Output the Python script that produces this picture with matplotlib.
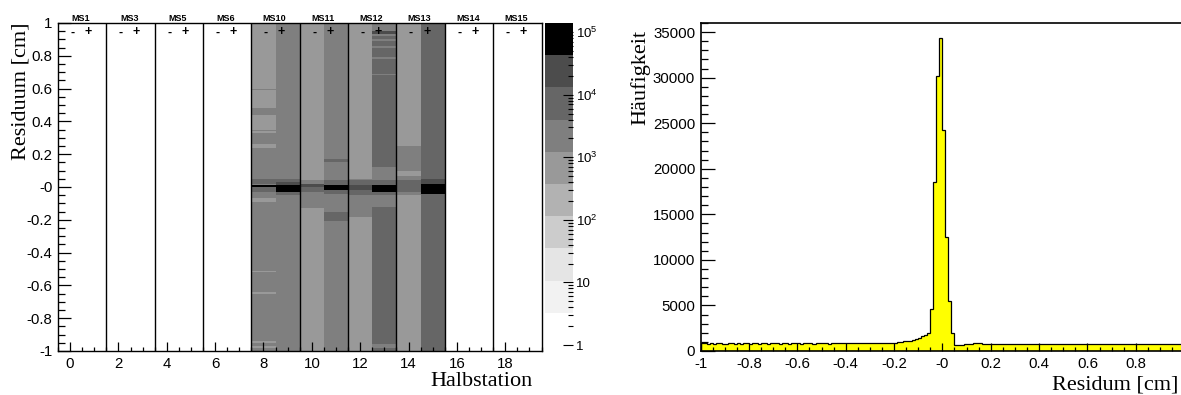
import numpy as np
import matplotlib
matplotlib.use('Agg')
import matplotlib.pyplot as plt
from matplotlib.colors import ListedColormap, LogNorm
from matplotlib.ticker import MultipleLocator, FixedLocator, LogLocator, NullFormatter

plt.rcParams['font.family'] = ['Liberation Sans', 'DejaVu Sans']
plt.rcParams['mathtext.fontset'] = 'custom'
plt.rcParams['mathtext.rm'] = 'Liberation Sans'

# ---- Daten: linkes Bild (Residuum je Halbstation, Abschnitte (y_oben, y_unten, Eintraege)) ----
stations = ['MS1', 'MS3', 'MS5', 'MS6', 'MS10', 'MS11', 'MS12', 'MS13', 'MS14', 'MS15']
n_half = 20
columns = {
    8: [(1.00, 0.60, 700), (0.60, 0.59, 2200), (0.59, 0.48, 700), (0.48, 0.44, 2200),
        (0.44, 0.35, 700), (0.35, 0.34, 2200), (0.34, 0.33, 700), (0.33, 0.26, 2200),
        (0.26, 0.24, 700), (0.24, 0.05, 2200), (0.05, 0.02, 7000), (0.02, 0.01, 2200),
        (0.01, 0.00, 70000), (0.00, -0.03, 7000), (-0.03, -0.07, 2200), (-0.07, -0.09, 700),
        (-0.09, -0.51, 2200), (-0.51, -0.52, 700), (-0.52, -0.64, 2200), (-0.64, -0.65, 700),
        (-0.65, -0.94, 2200), (-0.94, -0.95, 700), (-0.95, -0.97, 2200), (-0.97, -0.98, 700),
        (-0.98, -1.00, 2200)],
    9: [(1.00, 0.05, 2200), (0.05, 0.03, 7000), (0.03, 0.01, 24000), (0.01, -0.03, 70000),
        (-0.03, -0.05, 7000), (-0.05, -1.00, 2200)],
    10: [(1.00, 0.04, 700), (0.04, 0.02, 2200), (0.02, 0.00, 24000), (0.00, -0.03, 7000),
         (-0.03, -0.13, 2200), (-0.13, -1.00, 700)],
    11: [(1.00, 0.17, 2200), (0.17, 0.15, 7000), (0.15, 0.04, 2200), (0.04, 0.01, 7000),
         (0.01, -0.02, 70000), (-0.02, -0.04, 7000), (-0.04, -0.15, 2200), (-0.15, -0.21, 7000),
         (-0.21, -1.00, 2200)],
    12: [(1.00, 0.05, 700), (0.05, 0.04, 2200), (0.04, 0.01, 7000), (0.01, -0.02, 24000),
         (-0.02, -0.05, 7000), (-0.05, -0.18, 2200), (-0.18, -1.00, 700)],
    13: [(1.00, 0.95, 2200), (0.95, 0.93, 24000), (0.93, 0.92, 2200), (0.92, 0.90, 7000),
         (0.90, 0.89, 2200), (0.89, 0.86, 7000), (0.86, 0.85, 2200), (0.85, 0.79, 7000),
         (0.79, 0.78, 2200), (0.78, 0.69, 7000), (0.69, 0.68, 2200), (0.68, 0.12, 7000),
         (0.12, 0.04, 2200), (0.04, 0.01, 7000), (0.01, -0.03, 70000), (-0.03, -0.05, 7000),
         (-0.05, -0.12, 2200), (-0.12, -0.96, 7000), (-0.96, -0.98, 2200), (-0.98, -1.00, 7000)],
    14: [(1.00, 0.25, 700), (0.25, 0.10, 2200), (0.10, 0.07, 700), (0.07, 0.04, 2200),
         (0.04, -0.03, 7000), (-0.03, -0.05, 2200), (-0.05, -1.00, 700)],
    15: [(1.00, 0.05, 7000), (0.05, 0.02, 24000), (0.02, -0.04, 70000), (-0.04, -1.00, 7000)],
}

# ---- Daten: rechtes Bild (Residuenverteilung, 160 Bins von -1 bis 1) ----
hist_counts = [
    930, 850, 820, 840, 810, 830, 860, 820, 800, 840,
    830, 810, 850, 820, 840, 830, 800, 860, 830, 820,
    850, 830, 810, 840, 870, 830, 820, 850, 840, 810,
    830, 880, 840, 820, 830, 850, 860, 820, 840, 830,
    850, 830, 820, 860, 840, 830, 850, 880, 840, 830,
    860, 850, 830, 870, 840, 860, 880, 850, 870, 860,
    880, 870, 900, 890, 930, 950, 1000, 1050, 1080, 1120,
    1200, 1300, 1450, 1650, 1800, 2000, 4600, 18500, 30200, 34300,
    24300, 12500, 5500, 2000, 700, 660, 690, 720, 760, 820,
    880, 920, 870, 820, 800, 780, 790, 760, 770, 780,
    760, 750, 770, 760, 740, 760, 750, 770, 740, 750,
    760, 740, 750, 730, 760, 780, 750, 740, 760, 750,
    740, 750, 760, 730, 750, 760, 740, 750, 770, 750,
    740, 760, 750, 730, 750, 740, 760, 750, 730, 740,
    760, 750, 740, 730, 750, 760, 740, 730, 750, 740,
    730, 750, 740, 760, 730, 740, 750, 740, 730, 750,
]

W, H = 1181, 395
fig = plt.figure(figsize=(W / 100, H / 100), dpi=100)

def box(l, t, r, b):
    return [l / W, 1 - b / H, (r - l) / W, (b - t) / H]

# ---------------- linkes Bild ----------------
ax = fig.add_axes(box(58, 23, 541.5, 351))
y_edges = np.linspace(-1, 1, 201)
yc = 0.5 * (y_edges[1:] + y_edges[:-1])
x_edges = np.arange(n_half + 1) - 0.5
grid = np.zeros((len(yc), n_half))
for col, segs in columns.items():
    for hi, lo, c in segs:
        grid[(yc < hi) & (yc > lo), col] = c

grays = ['#ffffff', '#f2f2f2', '#e5e5e5', '#cccccc', '#b2b2b2',
         '#999999', '#7f7f7f', '#666666', '#4c4c4c', '#000000']
cmap = ListedColormap(grays)
cmap.set_bad('white')
norm = LogNorm(vmin=1, vmax=1.4e5)
mesh = ax.pcolormesh(x_edges, y_edges, np.ma.masked_less(grid, 1), cmap=cmap, norm=norm)

for k in range(1, 10):
    ax.axvline(2 * k - 0.5, color='black', lw=1.0)

ax.set_xlim(-0.5, 19.5)
ax.set_ylim(-1, 1)
ax.xaxis.set_major_locator(FixedLocator(np.arange(0, 19, 2)))
ax.xaxis.set_minor_locator(MultipleLocator(0.5))
ax.set_xticklabels([str(v) for v in range(0, 19, 2)])
ax.yaxis.set_major_locator(FixedLocator(np.linspace(-1, 1, 11)))
ax.yaxis.set_minor_locator(MultipleLocator(0.05))
ax.set_yticklabels(['-1', '-0.8', '-0.6', '-0.4', '-0.2', '-0', '0.2', '0.4', '0.6', '0.8', '1'])
ax.tick_params(axis='both', which='both', direction='in', top=False, right=False,
               labelsize=10.8, colors='black', width=0.9)
ax.tick_params(axis='y', which='major', length=9.5, pad=4)
ax.tick_params(axis='y', which='minor', length=5)
ax.tick_params(axis='x', which='major', length=6.5, pad=4)
ax.tick_params(axis='x', which='minor', length=3.2)
for s in ax.spines.values():
    s.set_linewidth(1.0)

yt = ax.get_xaxis_transform()
for k, name in enumerate(stations):
    ax.text(2 * k + 0.45, 1.015, name, transform=yt, ha='center', va='center',
            fontsize=6.5, fontweight='bold')
    ax.text(2 * k + 0.1, 0.943, '-', ha='center', va='center', fontsize=9, fontweight='bold')
    ax.text(2 * k + 0.75, 0.943, '+', ha='center', va='center', fontsize=9, fontweight='bold')

fig.text(21 / W, 1 - 23 / H, 'Residuum [cm]', rotation=90, ha='center', va='top',
         fontsize=16, family='Liberation Serif')
fig.text(533 / W, 1 - 381.7 / H, 'Halbstation', ha='right', va='center',
         fontsize=16, family='Liberation Serif')

# Farbskala
cax = fig.add_axes(box(545, 23, 573, 345))
cb = fig.colorbar(mesh, cax=cax)
cb.outline.set_visible(False)
cax.yaxis.set_major_locator(FixedLocator([1, 10, 100, 1e3, 1e4, 1e5]))
cax.yaxis.set_major_formatter(plt.FixedFormatter(['1', '10', r'$10^{2}$', r'$10^{3}$',
                                                  r'$10^{4}$', r'$10^{5}$']))
cax.yaxis.set_minor_locator(LogLocator(base=10, subs=np.arange(2, 10)))
cax.yaxis.set_minor_formatter(NullFormatter())
cax.tick_params(which='both', direction='in', right=True, left=False, labelsize=9.5, pad=2,
                width=0.8)
cax.tick_params(which='major', length=7)
cax.tick_params(which='minor', length=3.5)

# ---------------- rechtes Bild ----------------
ax2 = fig.add_axes(box(700.7, 23, 1184.1, 351))
edges = np.linspace(-1, 1, len(hist_counts) + 1)
ax2.stairs(hist_counts, edges, fill=True, facecolor='#ffff00', edgecolor='none')
ax2.stairs(hist_counts, edges, color='black', lw=0.9)
ax2.set_xlim(-1, 1)
ax2.set_ylim(0, 36000)
ax2.xaxis.set_major_locator(FixedLocator(np.linspace(-1, 0.8, 10)))
ax2.set_xticklabels(['-1', '-0.8', '-0.6', '-0.4', '-0.2', '-0', '0.2', '0.4', '0.6', '0.8'])
ax2.xaxis.set_minor_locator(MultipleLocator(0.05))
ax2.yaxis.set_major_locator(MultipleLocator(5000))
ax2.yaxis.set_minor_locator(MultipleLocator(1000))
ax2.yaxis.set_major_formatter(plt.FuncFormatter(lambda v, p: '%d' % v))
ax2.tick_params(axis='both', which='both', direction='in', top=False, right=False,
                labelsize=10.8, width=0.9)
ax2.tick_params(axis='y', which='major', length=10, pad=4)
ax2.tick_params(axis='y', which='minor', length=5)
ax2.tick_params(axis='x', which='major', length=5.8, pad=4)
ax2.tick_params(axis='x', which='minor', length=2.9)
for s in ax2.spines.values():
    s.set_linewidth(1.2)

fig.text(640 / W, 1 - 30 / H, 'Häufigkeit', rotation=90, ha='center', va='top',
         fontsize=16, family='Liberation Serif')
fig.text(1178 / W, 1 - 385 / H, 'Residum [cm]', ha='right', va='center',
         fontsize=16, family='Liberation Serif')

fig.savefig('out.png', dpi=100)
